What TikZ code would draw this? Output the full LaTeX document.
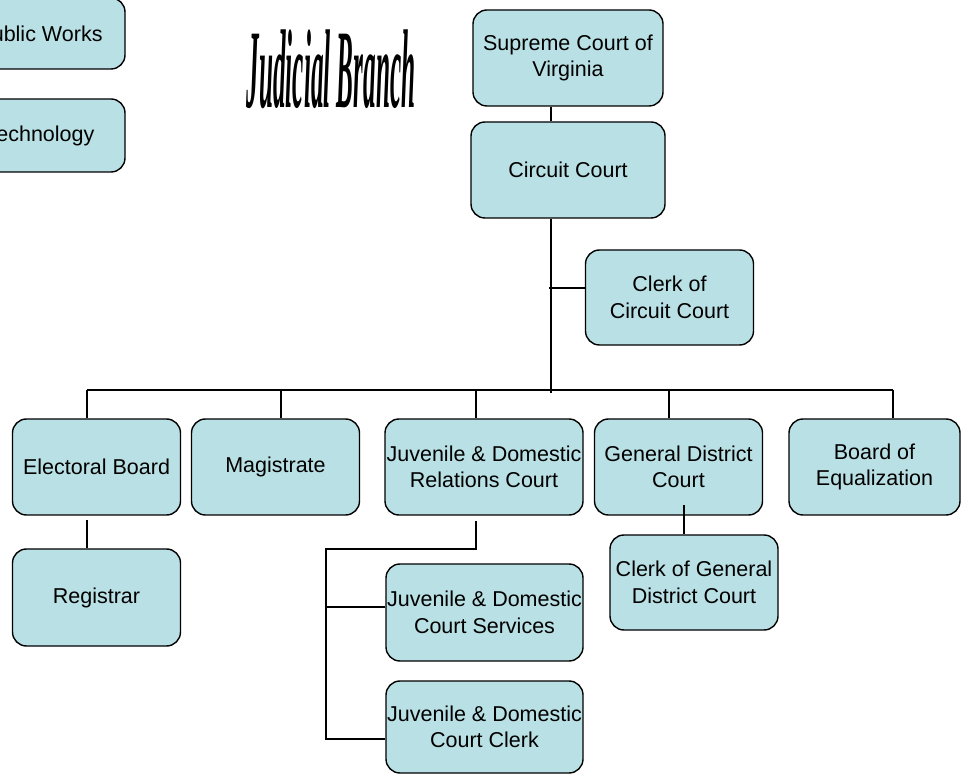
\documentclass[tikz,border=0pt]{standalone}
\usepackage{fontspec}
\setsansfont{Liberation Sans}
\newfontfamily\titlefont{Liberation Serif}
\definecolor{boxfill}{RGB}{185,224,228}
\begin{document}
\begin{tikzpicture}[x=1pt, y=-1pt, line width=1.4pt]
\useasboundingbox (0,0) rectangle (962,775);
\clip (0,0) rectangle (962,775);
\tikzstyle{every node} = [rectangle, rounded corners=14pt, draw, fill=boxfill, minimum width=168pt, minimum height=96pt, inner sep=0pt, align=center, font=\sffamily\fontsize{21.5}{26.5}\selectfont]
% left column, cut off at the edge
\node[minimum width=170pt, minimum height=71pt] (pw) at (40,33.5) {Public Works};
\node[minimum width=170pt, minimum height=73pt] (tech) at (40,135.5) {Technology};
\node[draw=none, fill=none, minimum size=0pt, anchor=base] (title) at (331,108) {\titlefont\bfseries\itshape\scalebox{0.225}[1]{\fontsize{112}{112}\selectfont Judicial Branch}};
% courts
\node[minimum width=190pt] (sup) at (568,58) {Supreme Court of\\ Virginia};
\node[minimum width=194pt] (cir) at (568,170) {Circuit Court};
\node[minimum height=95pt] (clk) at (669.5,297.5) {Clerk of\\ Circuit Court};
\node (elec) at (96.5,467) {Electoral Board};
\node (mag) at (275.5,467) {Magistrate};
\node[minimum width=198pt] (jdr) at (484,467) {Juvenile \& Domestic\\ Relations Court};
\node (gdc) at (678.5,467) {General District\\ Court};
\node[minimum width=171pt] (boe) at (874.5,467) {Board of\\ Equalization};
\node[minimum height=97pt] (reg) at (96.5,597.5) {Registrar};
\node[minimum height=95pt] (cgd) at (694,582.5) {Clerk of General\\ District Court};
\node[minimum width=197pt, minimum height=97pt] (jcs) at (484.5,612.5) {Juvenile \& Domestic\\ Court Services};
\node[minimum width=197pt, minimum height=92pt] (jcc) at (484.5,727) {Juvenile \& Domestic\\ Court Clerk};
% connectors
\coordinate (trunk) at (551,393);
\coordinate (tap) at (549,288);
\draw ([xshift=-17pt]sup.south) -- ([xshift=-17pt]cir.north);
\draw ([xshift=-17pt]cir.south) -- (trunk);
\draw (tap) -- (tap -| clk.west);
\draw (87,390) -- (893,390);
\foreach \n/\x in {elec/87, mag/281, jdr/476, gdc/669, boe/893}
\draw (\x,390) -- (\n.north -| \x,0);
\draw (87,520) -- (reg.north -| 87,0);
\draw (684,505) -- (cgd.north -| 684,0);
\draw (476,521) -- (476,549) -- (326,549) -- (326,739) -- (jcc.west |- 0,739);
\draw (326,607) -- (jcs.west |- 0,607);
\end{tikzpicture}
\end{document}
